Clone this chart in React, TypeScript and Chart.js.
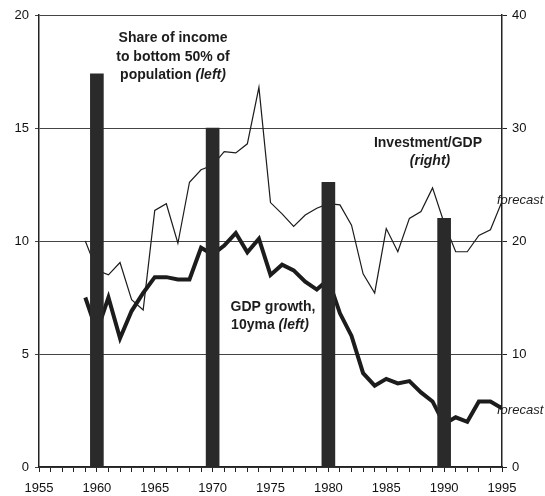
import React, { useEffect, useRef } from "react";
import { Chart, registerables } from "chart.js";

Chart.register(...registerables);

const years = [
  1959, 1960, 1961, 1962, 1963, 1964, 1965, 1966, 1967, 1968, 1969, 1970, 1971,
  1972, 1973, 1974, 1975, 1976, 1977, 1978, 1979, 1980, 1981, 1982, 1983, 1984,
  1985, 1986, 1987, 1988, 1989, 1990, 1991, 1992, 1993, 1994, 1995,
];

// GDP growth, 10-year moving average (left axis)
const gdpGrowth = [
  7.5, 6.0, 7.5, 5.7, 6.9, 7.7, 8.4, 8.4, 8.3, 8.3, 9.7, 9.4, 9.8, 10.35, 9.5,
  10.1, 8.5, 8.95, 8.7, 8.2, 7.85, 8.3, 6.8, 5.8, 4.15, 3.6, 3.9, 3.7, 3.8, 3.3,
  2.9, 1.9, 2.2, 2.0, 2.9, 2.9, 2.6,
];

// Investment / GDP (right axis)
const investmentGdp = [
  20.0, 17.4, 17.0, 18.1, 14.8, 13.9, 22.7, 23.3, 19.8, 25.2, 26.3, 26.7, 27.9,
  27.8, 28.6, 33.6, 23.4, 22.4, 21.3, 22.3, 22.9, 23.3, 23.2, 21.4, 17.1, 15.4,
  21.1, 19.05, 22.0, 22.6, 24.7, 21.6, 19.05, 19.05, 20.5, 21.0, 23.5,
];

// Share of income to bottom 50% of population (left axis)
const shareYears = [1960, 1970, 1980, 1990];
const shareBottom50 = [17.4, 15.0, 12.6, 11.0];

const xMin = 1955;
const xMax = 1995;
const leftMax = 20;
const rightMax = 40;

const FONT = "'Liberation Sans', Arial, Helvetica, sans-serif";
const INK = "#1c1c1c";

function drawRich(
  ctx: CanvasRenderingContext2D,
  parts: { t: string; f: string }[],
  cx: number,
  cy: number
) {
  let total = 0;
  const widths = parts.map((p) => {
    ctx.font = p.f;
    const w = ctx.measureText(p.t).width;
    total += w;
    return w;
  });
  let x = cx - total / 2;
  parts.forEach((p, i) => {
    ctx.font = p.f;
    ctx.fillText(p.t, x, cy);
    x += widths[i];
  });
}

const annotationPlugin = {
  id: "annotations",
  afterDraw(chart: any) {
    const ctx: CanvasRenderingContext2D = chart.ctx;
    const xs = chart.scales.x;
    const ys = chart.scales.y;
    const y2 = chart.scales.y2;
    ctx.save();
    ctx.fillStyle = INK;
    ctx.textAlign = "left";
    ctx.textBaseline = "middle";
    const B = `bold 14px ${FONT}`;
    const BI = `italic bold 14px ${FONT}`;

    drawRich(ctx, [{ t: "Share of income", f: B }], 173, 38);
    drawRich(ctx, [{ t: "to bottom 50% of", f: B }], 173, 57);
    drawRich(ctx, [{ t: "population ", f: B }, { t: "(left)", f: BI }], 173, 75);

    drawRich(ctx, [{ t: "Investment/GDP", f: B }], 428, 143);
    drawRich(ctx, [{ t: "(right)", f: BI }], 430, 161);

    drawRich(ctx, [{ t: "GDP growth,", f: B }], 273, 307);
    drawRich(ctx, [{ t: "10yma ", f: B }, { t: "(left)", f: BI }], 270, 325);

    ctx.font = `italic 13px ${FONT}`;
    const fx = xs.getPixelForValue(xMax) - 5;
    ctx.fillText("forecast", fx, y2.getPixelForValue(investmentGdp[investmentGdp.length - 1]) - 1);
    ctx.fillText("forecast", fx, ys.getPixelForValue(gdpGrowth[gdpGrowth.length - 1]) + 2);
    ctx.restore();
  },
};

export default function App() {
  const ref = useRef<HTMLCanvasElement | null>(null);

  useEffect(() => {
    if (!ref.current) return;
    const chart = new Chart(ref.current, {
      type: "bar",
      data: {
        datasets: [
          {
            type: "bar",
            label: "Share of income to bottom 50% of population (left)",
            data: shareYears.map((x, i) => ({ x, y: shareBottom50[i] })),
            backgroundColor: "#2a2a2a",
            borderWidth: 0,
            barThickness: 13,
            yAxisID: "y",
            xAxisID: "x",
            order: 0,
          } as any,
          {
            type: "line",
            label: "Investment/GDP (right)",
            data: years.map((x, i) => ({ x, y: investmentGdp[i] })),
            borderColor: INK,
            borderWidth: 1.2,
            pointRadius: 0,
            tension: 0,
            fill: false,
            yAxisID: "y2",
            xAxisID: "x",
            order: 1,
          } as any,
          {
            type: "line",
            label: "GDP growth, 10yma (left)",
            data: years.map((x, i) => ({ x, y: gdpGrowth[i] })),
            borderColor: INK,
            borderWidth: 4,
            borderJoinStyle: "miter",
            pointRadius: 0,
            tension: 0,
            fill: false,
            yAxisID: "y",
            xAxisID: "x",
            order: 2,
          } as any,
        ],
      },
      options: {
        animation: false,
        responsive: false,
        maintainAspectRatio: false,
        layout: { padding: { top: 15, left: 0, right: 0, bottom: 0 } },
        plugins: {
          legend: { display: false },
          tooltip: { enabled: false },
        },
        scales: {
          x: {
            type: "linear",
            min: xMin,
            max: xMax,
            offset: false,
            grid: {
              offset: false,
              drawOnChartArea: false,
              drawTicks: true,
              tickLength: 5,
              color: "#222",
              lineWidth: 1,
            },
            border: { color: "#222", width: 1.5 },
            ticks: {
              stepSize: 1,
              autoSkip: false,
              maxRotation: 0,
              minRotation: 0,
              padding: 9,
              color: "#111",
              font: { family: FONT, size: 13 },
              callback: (v: any) => (Number(v) % 5 === 0 ? String(v) : ""),
            },
            afterFit: (s: any) => {
              s.height = 29;
            },
          },
          y: {
            position: "left",
            min: 0,
            max: leftMax,
            grid: {
              color: "#444",
              lineWidth: 1,
              tickLength: 4,
            },
            border: { color: "#222", width: 1.5 },
            ticks: {
              stepSize: 5,
              padding: 6,
              color: "#111",
              font: { family: FONT, size: 13 },
            },
            afterFit: (s: any) => {
              s.width = 39;
            },
          },
          y2: {
            position: "right",
            min: 0,
            max: rightMax,
            grid: {
              drawOnChartArea: false,
              color: "#222",
              tickLength: 5,
            },
            border: { color: "#222", width: 1.5 },
            ticks: {
              stepSize: 10,
              padding: 5,
              color: "#111",
              font: { family: FONT, size: 13 },
            },
            afterFit: (s: any) => {
              s.width = 43;
            },
          },
        },
      } as any,
      plugins: [annotationPlugin],
    });
    return () => chart.destroy();
  }, []);

  return (
    <div style={{ position: "absolute", left: 0, top: 0, width: 545, height: 496, background: "#fff" }}>
      <canvas ref={ref} width={545} height={496} style={{ display: "block", width: 545, height: 496 }} />
    </div>
  );
}
